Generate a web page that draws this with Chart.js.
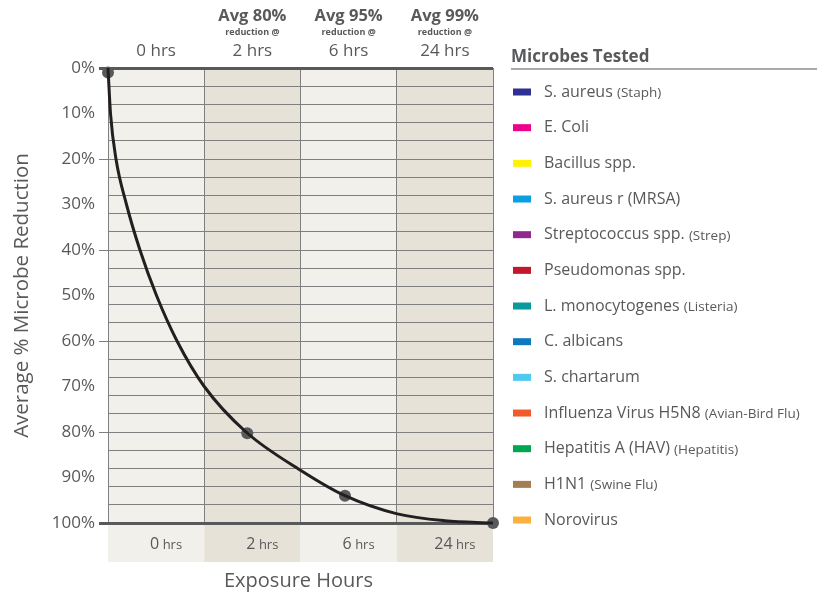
<!DOCTYPE html>
<html>
<head>
<meta charset="utf-8">
<script src="https://cdn.jsdelivr.net/npm/chart.js@4"></script>
<style>
  html, body { margin: 0; padding: 0; background: #fff; }
  #wrap { width: 822px; height: 595px; position: relative; }
</style>
</head>
<body>
<div id="wrap"><canvas id="chart"></canvas></div>
<script>
// column headers / tick labels
const hourNums = ['0', '2', '6', '24'];
const avgHeaders = ['', 'Avg 80%', 'Avg 95%', 'Avg 99%'];
// reduction curve (x in column units, y in %)
const curveX = [0, 0.026, 0.083, 0.192, 0.332, 0.504, 0.717, 1.0, 1.434, 2.0, 2.462, 3.006, 3.5, 4.0];
const curveY = [0, 10, 20, 30, 40, 50, 60, 70, 80, 88.4, 94, 98, 99.5, 100];
const markerX = [0, 1.447, 2.462, 4];
const markerY = [1, 80.3, 94, 100];
// legend
const microbeNames = ['S. aureus', 'E. Coli', 'Bacillus spp.', 'S. aureus r (MRSA)', 'Streptococcus spp.', 'Pseudomonas spp.',
  'L. monocytogenes', 'C. albicans', 'S. chartarum', 'Influenza Virus H5N8', 'Hepatitis A (HAV)', 'H1N1', 'Norovirus'];
const microbeNotes = ['(Staph)', '', '', '', '(Strep)', '', '(Listeria)', '', '', '(Avian-Bird Flu)', '(Hepatitis)', '(Swine Flu)', ''];
const microbeColors = ['#2e3192', '#ec008c', '#fff200', '#0a9fe0', '#92278f', '#c4162c', '#0b9a9c', '#0f78bf', '#4ec9ef',
  '#f15a29', '#00a651', '#a67c52', '#fbb040'];

const FONT = '"Open Sans", sans-serif';
const TXT = '#58595b';
const bandColors = ['#f1f0eb', '#e6e2d8'];

const decor = {
  id: 'decor',
  beforeDraw(chart) {
    const { ctx, chartArea: a, scales: { x } } = chart;
    ctx.save();
    for (let i = 0; i < 4; i++) {
      const l = x.getPixelForValue(i), r = x.getPixelForValue(i + 1);
      ctx.fillStyle = bandColors[i % 2];
      ctx.fillRect(l, a.top, r - l, a.bottom - a.top);
      ctx.fillRect(l, a.bottom + 2, r - l, 37);
    }
    ctx.restore();
  },
  afterDraw(chart) {
    const { ctx, chartArea: a, scales: { x } } = chart;
    ctx.save();
    ctx.fillStyle = TXT;
    ctx.textBaseline = 'middle';
    for (let i = 0; i < 4; i++) {
      const c = (x.getPixelForValue(i) + x.getPixelForValue(i + 1)) / 2;
      ctx.textAlign = 'center';
      ctx.font = '17px ' + FONT;
      ctx.fillText(hourNums[i] + ' hrs', c, 51);
      if (avgHeaders[i]) {
        ctx.font = 'bold 16.5px ' + FONT;
        ctx.fillText(avgHeaders[i], c, 16);
        ctx.font = 'bold 9px ' + FONT;
        ctx.fillText('reduction @', c, 32);
      }
      // bottom labels
      ctx.font = '16px ' + FONT;
      const w1 = ctx.measureText(hourNums[i]).width;
      ctx.font = '13px ' + FONT;
      const w2 = ctx.measureText(' hrs').width;
      const sx = c + 10 - (w1 + w2) / 2;
      ctx.textAlign = 'left';
      ctx.font = '16px ' + FONT;
      ctx.fillText(hourNums[i], sx, a.bottom + 21);
      ctx.font = '13px ' + FONT;
      ctx.fillText(' hrs', sx + w1, a.bottom + 22);
    }
    // axis titles
    ctx.textAlign = 'center';
    ctx.font = '20px ' + FONT;
    ctx.fillText('Exposure Hours', (a.left + a.right) / 2 - 2, 581);
    ctx.save();
    ctx.translate(22, (a.top + a.bottom) / 2);
    ctx.rotate(-Math.PI / 2);
    ctx.font = '20.5px ' + FONT;
    ctx.fillText('Average % Microbe Reduction', 0, 0);
    ctx.restore();
    // legend
    ctx.textAlign = 'left';
    ctx.font = 'bold 17px ' + FONT;
    ctx.fillText('Microbes Tested', 511, 57);
    ctx.strokeStyle = '#a7a9ac';
    ctx.lineWidth = 2;
    ctx.beginPath();
    ctx.moveTo(511, 69);
    ctx.lineTo(817, 69);
    ctx.stroke();
    microbeNames.forEach((n, i) => {
      const y = 92 + i * 35.67;
      ctx.fillStyle = microbeColors[i];
      ctx.fillRect(513, y - 3.5, 18, 7);
      ctx.fillStyle = TXT;
      ctx.font = '16px ' + FONT;
      ctx.fillText(n, 544, y);
      if (microbeNotes[i]) {
        const w = ctx.measureText(n + ' ').width;
        ctx.font = '13.5px ' + FONT;
        ctx.fillText(microbeNotes[i], 544 + w, y + 1);
      }
    });
    ctx.restore();
  }
};

const edge = v => v === 0 || v === 100;

new Chart(document.getElementById('chart'), {
  type: 'line',
  data: {
    datasets: [
      {
        data: curveX.map((v, i) => ({ x: v, y: curveY[i] })),
        borderColor: '#231f20',
        borderWidth: 3,
        pointRadius: 0,
        cubicInterpolationMode: 'monotone',
        clip: false
      },
      {
        data: markerX.map((v, i) => ({ x: v, y: markerY[i] })),
        showLine: false,
        pointRadius: 6,
        pointBackgroundColor: '#58595b',
        pointBorderWidth: 0,
        clip: false
      }
    ]
  },
  plugins: [decor],
  options: {
    responsive: true,
    maintainAspectRatio: false,
    animation: false,
    layout: { padding: { top: 68, right: 329, left: 0, bottom: 0 } },
    plugins: { legend: { display: false }, tooltip: { enabled: false } },
    scales: {
      x: {
        type: 'linear', min: 0, max: 4,
        ticks: { display: false, stepSize: 1 },
        grid: { color: '#808080', lineWidth: 1, drawTicks: false },
        border: { display: false },
        afterFit(s) { s.height = 72; }
      },
      y: {
        min: 0, max: 100, reverse: true,
        // grid every 4%, labels every 10%
        afterBuildTicks(s) {
          const vals = [];
          for (let v = 0; v <= 100; v++) if (v % 4 === 0 || v % 10 === 0) vals.push({ value: v });
          s.ticks = vals;
        },
        ticks: {
          autoSkip: false,
          padding: 4, color: TXT,
          font: { family: FONT, size: 17 },
          callback: v => v % 10 === 0 ? v + '%' : ''
        },
        grid: {
          tickLength: 9,
          color: c => edge(c.tick.value) ? '#58595b' : (c.tick.value % 4 === 0 ? '#7f7f7f' : 'rgba(0,0,0,0)'),
          lineWidth: c => edge(c.tick.value) ? 3 : 1,
          tickColor: c => c.tick.value % 20 === 0 ? (edge(c.tick.value) ? '#58595b' : '#7f7f7f') : 'rgba(0,0,0,0)'
        },
        border: { display: false },
        afterFit(s) { s.width = 108; }
      }
    }
  }
});
</script>
</body>
</html>
